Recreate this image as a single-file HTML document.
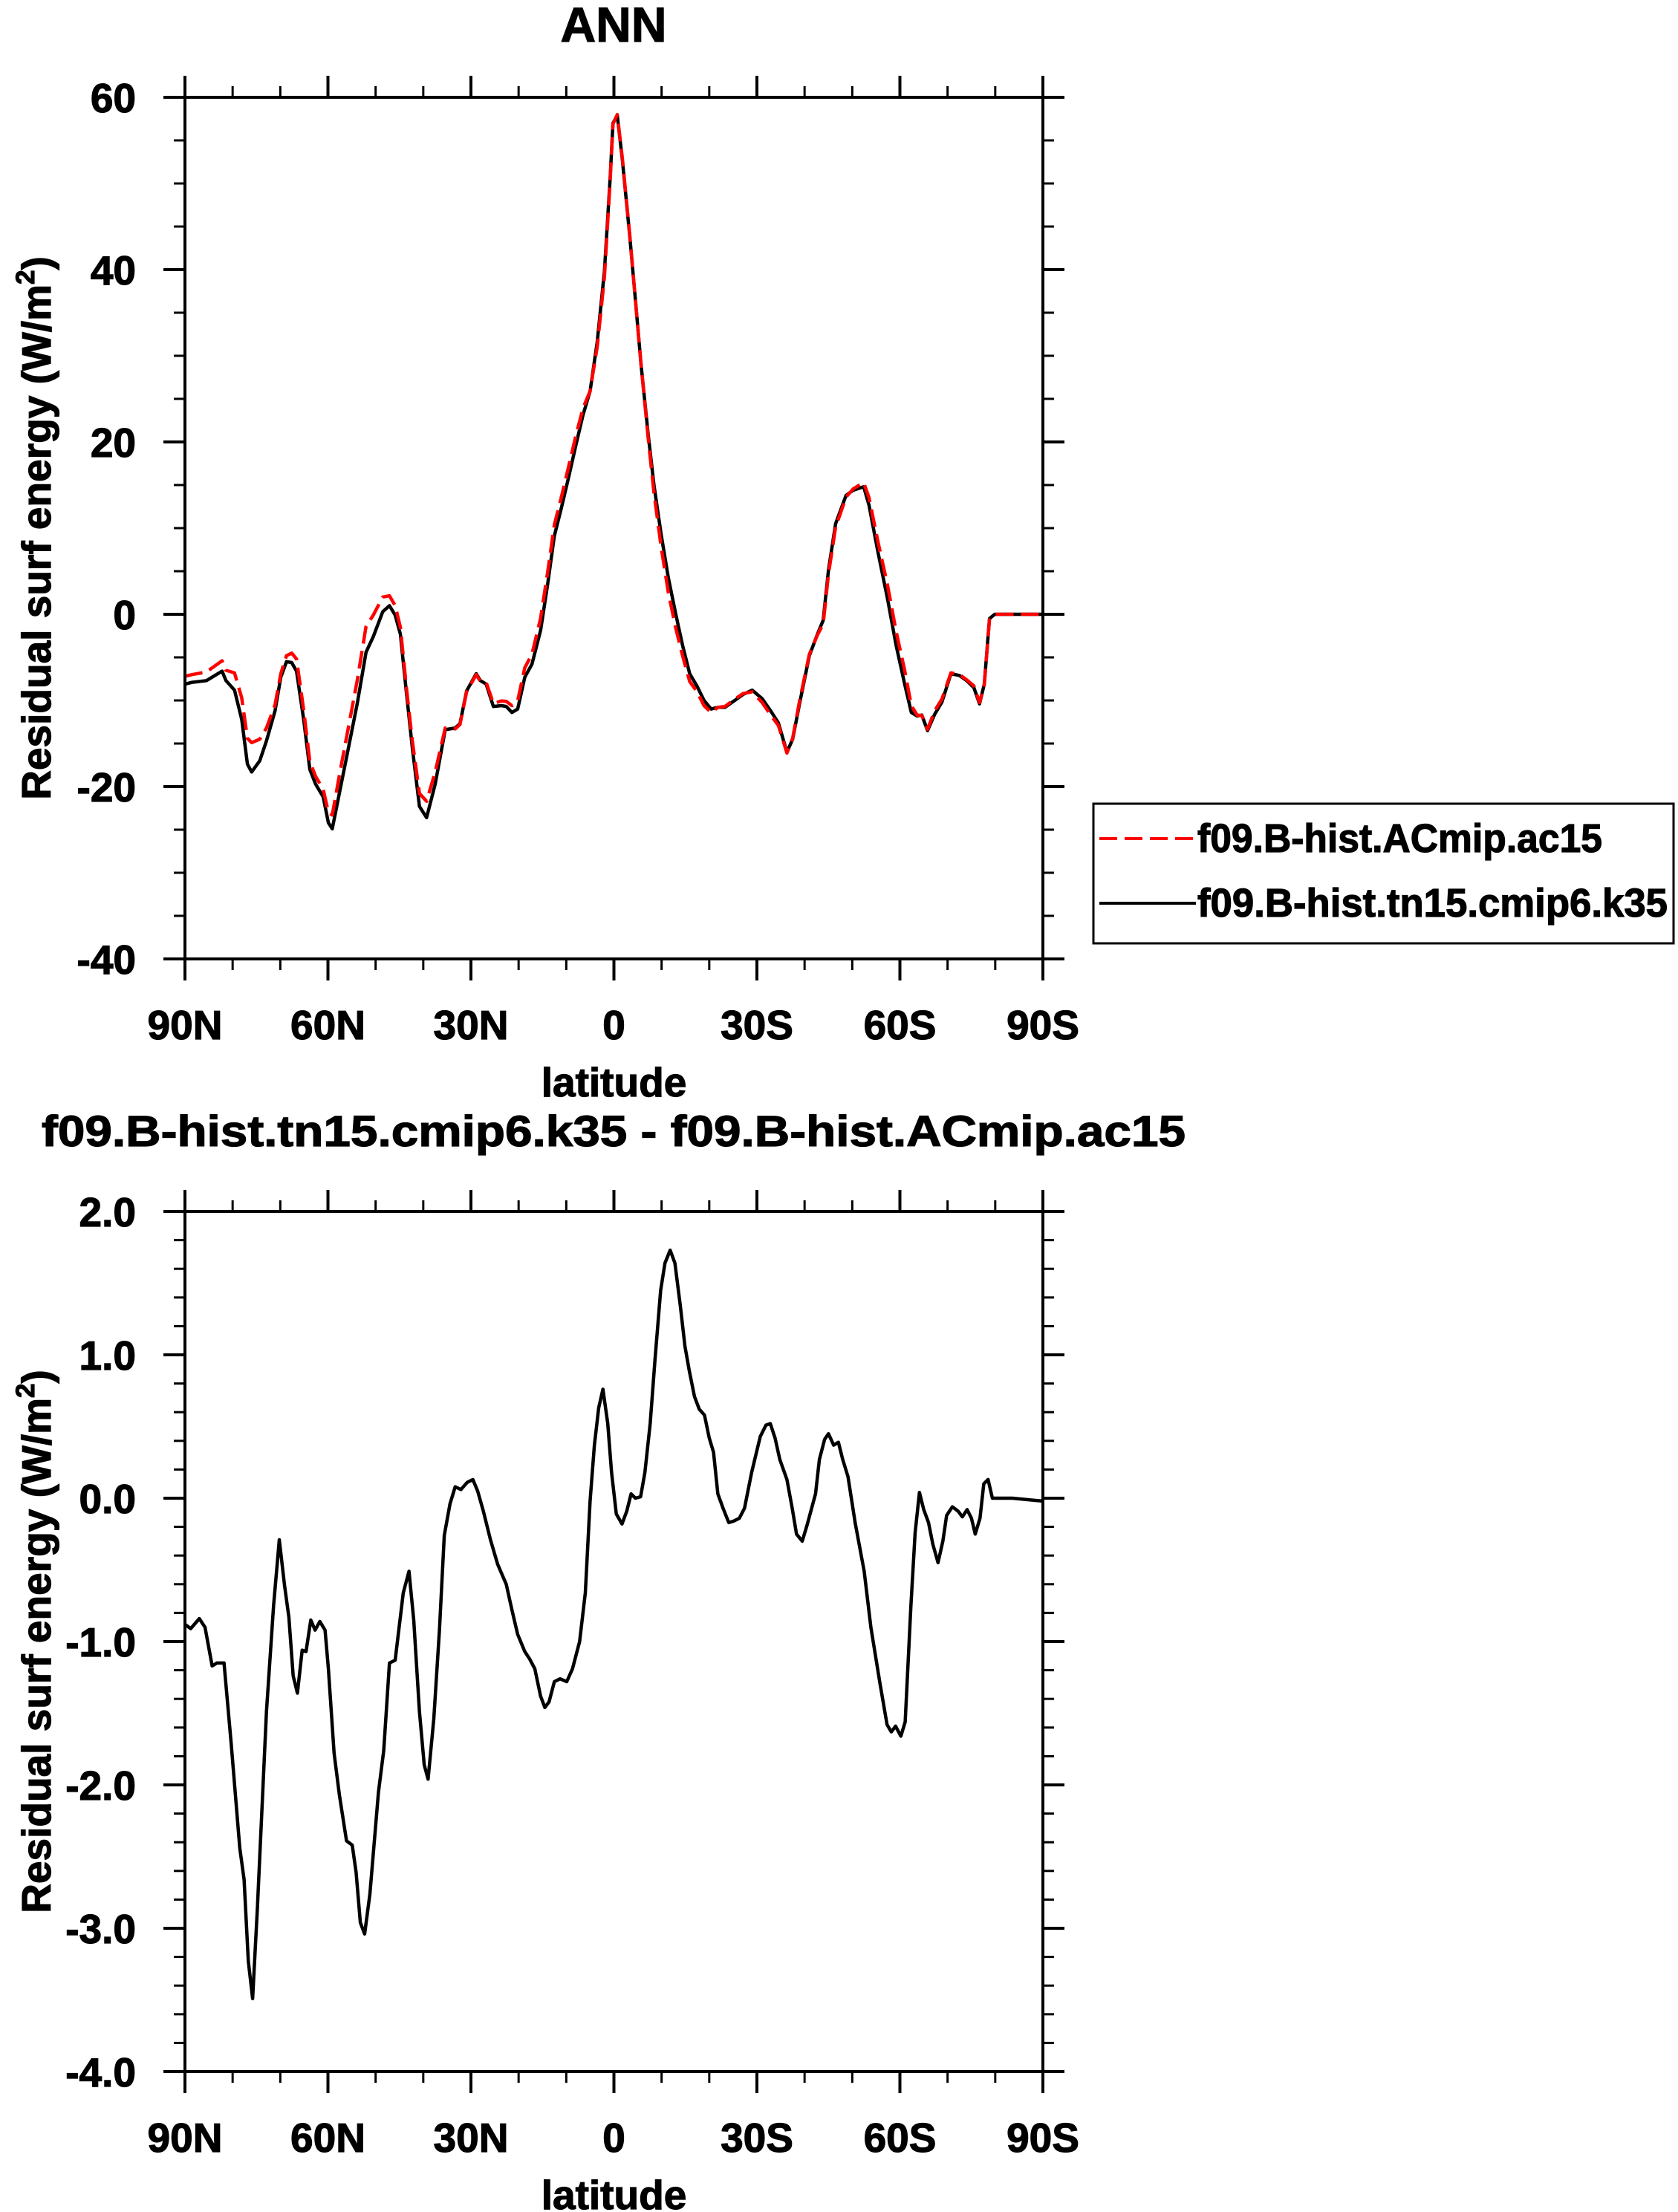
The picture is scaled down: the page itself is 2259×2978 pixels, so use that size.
<!DOCTYPE html>
<html>
<head>
<meta charset="utf-8">
<style>
html,body{margin:0;padding:0;background:#fff;}
svg{display:block;}
text{font-family:"Liberation Sans",Arial,sans-serif;font-weight:bold;fill:#000;stroke:#000;stroke-width:1.2px;}
</style>
</head>
<body>
<svg id="chart" width="2259" height="2978" viewBox="0 0 2259 2978" xmlns="http://www.w3.org/2000/svg">
  <text x="826" y="56" font-size="66" text-anchor="middle">ANN</text>
  <text x="826" y="1543" font-size="58" text-anchor="middle" textLength="1540" lengthAdjust="spacingAndGlyphs">f09.B-hist.tn15.cmip6.k35 - f09.B-hist.ACmip.ac15</text>
  <g id="top-plot"></g>
  <g id="bottom-plot"></g>
  <g id="legend">
    <rect x="1472" y="1082" width="781" height="188" fill="#fff" stroke="#000" stroke-width="3"/>
    <line x1="1480" y1="1129" x2="1610" y2="1129" stroke="#ff0000" stroke-width="4" stroke-dasharray="24,10"/>
    <text x="1612" y="1147" font-size="54" textLength="545" lengthAdjust="spacingAndGlyphs">f09.B-hist.ACmip.ac15</text>
    <line x1="1480" y1="1216" x2="1610" y2="1216" stroke="#000" stroke-width="4"/>
    <text x="1612" y="1234" font-size="54" textLength="633" lengthAdjust="spacingAndGlyphs">f09.B-hist.tn15.cmip6.k35</text>
  </g>
</svg>
<script>
// ---- data ----
const latK35 = [90,88.5,85.5,82.2,81.4,79.6,78.1,76.9,76.0,74.3,72.9,71.1,69.9,68.7,67.6,66.6,65.1,63.8,62.6,61.0,59.9,59.1,57.5,55.7,53.8,52.0,50.5,48.5,47.1,45.9,44.8,43.5,42.3,40.8,39.3,37.5,35.4,33.3,32.3,30.9,28.9,28.0,26.8,25.3,23.6,22.6,21.4,20.2,18.7,17.2,15.4,13.9,12.5,11.0,9.5,8.0,6.5,5.0,3.5,2.0,0.8,0.2,-0.7,-1.8,-3.3,-4.5,-5.7,-7.2,-8.4,-9.9,-11.4,-12.9,-14.4,-15.9,-17.4,-18.9,-20.4,-21.8,-23.3,-25.6,-27.1,-29.0,-31.1,-33.1,-34.5,-36.3,-37.5,-39.0,-41.0,-42.7,-43.9,-45.0,-46.5,-48.7,-50.2,-52.4,-53.5,-55.4,-57.4,-59.2,-61.0,-62.4,-63.6,-64.6,-65.8,-67.3,-68.8,-70.7,-72.5,-74.0,-75.5,-76.7,-77.7,-78.8,-79.9,-90];
const valK35 = [-8.1,-7.9,-7.7,-6.6,-7.7,-8.8,-12.2,-17.4,-18.3,-17.0,-14.7,-11.2,-7.3,-5.5,-5.6,-6.6,-12.2,-18.0,-19.7,-21.2,-24.2,-24.9,-20.5,-15.5,-10.2,-4.4,-2.6,0.3,1.0,-0.1,-2.3,-9.3,-15.5,-22.3,-23.6,-19.7,-13.4,-13.2,-12.7,-8.9,-6.9,-7.7,-8.1,-10.7,-10.6,-10.7,-11.4,-11.0,-7.3,-5.8,-1.9,3.5,9.1,12.4,15.9,19.6,23.1,25.9,31.6,39.8,50.6,57.0,57.9,52.6,44.0,36.5,28.9,20.8,15.0,9.3,4.3,0.2,-3.6,-6.9,-8.3,-10.0,-11.0,-10.8,-10.8,-9.9,-9.3,-8.8,-9.8,-11.4,-12.6,-16.0,-14.5,-10.2,-4.8,-2.3,-0.7,5.1,10.5,13.8,14.4,14.8,12.7,7.2,1.8,-3.6,-8.1,-11.4,-11.8,-11.7,-13.5,-11.6,-10.2,-6.9,-7.1,-7.7,-8.5,-10.4,-8.1,-0.5,0,0];
const latAC15 = latK35.slice();
const valAC15 = [-7.2,-7.0,-6.7,-5.4,-6.5,-6.8,-9.7,-14.4,-14.9,-14.5,-13.2,-10.5,-6.9,-4.8,-4.5,-5.2,-11.1,-17.1,-18.8,-20.3,-23.0,-23.3,-18.4,-13.1,-7.5,-1.4,-0.1,2.0,2.15,1.0,-1.5,-8.75,-14.7,-20.8,-21.7,-18.3,-13.2,-13.3,-12.8,-9.0,-7.0,-7.8,-7.9,-10.35,-10.05,-10.1,-10.6,-10.05,-6.2,-4.65,-0.5,4.9,10.4,13.65,17.15,20.7,23.9,25.9,31.05,39.1,50.3,56.9,58.0,52.8,44.1,36.5,28.9,20.35,14.1,7.85,2.6,-1.45,-4.8,-7.8,-8.95,-10.6,-11.4,-10.8,-10.7,-9.75,-9.2,-9.0,-10.25,-11.85,-12.9,-16.1,-14.4,-9.9,-4.65,-2.4,-1.1,4.65,10.1,13.6,14.55,15.3,13.55,8.4,3.4,-2.0,-6.5,-10.6,-11.7,-11.75,-13.35,-11.2,-9.85,-6.8,-7.0,-7.6,-8.3,-10.25,-8.2,-0.6,0,0];
const latDiff = [90,88.8,87.0,85.8,84.3,83.3,81.8,80.3,78.5,77.6,76.7,75.8,74.8,72.9,71.4,70.2,69.1,68.2,67.3,66.4,65.4,64.6,63.6,62.7,61.7,60.6,59.9,58.7,57.6,56.1,54.9,54.1,53.2,52.3,51.2,49.4,48.3,47.1,45.9,44.2,43.0,42.0,40.8,39.8,39.0,37.8,36.6,35.6,34.4,33.3,32.1,30.8,29.6,28.6,27.4,25.9,24.4,22.6,21.4,20.2,18.7,17.7,16.6,15.4,14.5,13.6,12.5,11.3,9.9,8.7,7.2,6.0,5.0,4.1,3.2,2.3,1.3,0.5,-0.5,-1.7,-2.7,-3.6,-4.5,-5.6,-6.5,-7.6,-8.6,-9.8,-10.7,-11.8,-12.8,-13.9,-14.9,-15.8,-16.9,-17.9,-19.0,-20.0,-20.9,-21.8,-22.9,-24.1,-25.1,-26.3,-27.4,-28.9,-30.7,-31.9,-32.8,-33.8,-34.8,-36.3,-37.4,-38.3,-39.5,-40.5,-42.3,-43.1,-44.2,-45.0,-46.1,-47.1,-48.0,-49.1,-50.6,-52.5,-53.9,-55.8,-57.3,-58.2,-59.1,-60.2,-61.1,-62.3,-63.2,-64.1,-65.0,-66.0,-66.9,-68.0,-69.0,-69.8,-71.0,-72.2,-73.1,-74.1,-75.0,-75.8,-76.8,-77.6,-78.5,-79.4,-83.6,-86.6,-90];
const valDiff = [-0.88,-0.91,-0.84,-0.90,-1.17,-1.15,-1.15,-1.71,-2.44,-2.66,-3.23,-3.49,-2.86,-1.49,-0.75,-0.29,-0.61,-0.83,-1.24,-1.36,-1.06,-1.07,-0.85,-0.92,-0.86,-0.92,-1.19,-1.78,-2.07,-2.39,-2.42,-2.61,-2.96,-3.04,-2.76,-2.05,-1.76,-1.15,-1.13,-0.66,-0.51,-0.85,-1.49,-1.86,-1.96,-1.54,-0.92,-0.26,-0.04,0.08,0.06,0.11,0.13,0.05,-0.09,-0.29,-0.46,-0.60,-0.78,-0.95,-1.07,-1.12,-1.19,-1.38,-1.46,-1.42,-1.28,-1.26,-1.28,-1.19,-1.00,-0.66,-0.02,0.37,0.63,0.76,0.52,0.18,-0.11,-0.18,-0.09,0.03,0.00,0.01,0.18,0.52,0.96,1.45,1.64,1.73,1.64,1.35,1.06,0.89,0.71,0.62,0.58,0.42,0.32,0.03,-0.07,-0.17,-0.16,-0.14,-0.07,0.18,0.43,0.51,0.52,0.42,0.27,0.13,-0.07,-0.25,-0.30,-0.19,0.03,0.27,0.41,0.45,0.37,0.39,0.27,0.15,-0.17,-0.51,-0.90,-1.29,-1.58,-1.63,-1.59,-1.66,-1.56,-0.75,-0.24,0.04,-0.08,-0.17,-0.32,-0.45,-0.30,-0.12,-0.06,-0.09,-0.13,-0.08,-0.14,-0.25,-0.14,0.10,0.13,0.00,0.00,-0.01,-0.02];
const xTickVals = [90,60,30,0,-30,-60,-90];
const xTickLabels = ["90N","60N","30N","0","30S","60S","90S"];
const topYTicks = [60,40,20,0,-20,-40];
const topYLabels = ["60","40","20","0","-20","-40"];
const botYTicks = [2,1,0,-1,-2,-3,-4];
const botYLabels = ["2.0","1.0","0.0","-1.0","-2.0","-3.0","-4.0"];

const NS = "http://www.w3.org/2000/svg";
function mk(tag, attrs, parent){
  const e = document.createElementNS(NS, tag);
  for (const k in attrs) e.setAttribute(k, attrs[k]);
  parent.appendChild(e);
  return e;
}
const L = 249, R = 1404;
function xScale(lat){ return L + (90 - lat) / 180 * (R - L); }

function drawPanel(g, top, bottom, ymin, ymax, majorY, minorStep, yTicks, yLabels, series){
  const yS = v => bottom - (v - ymin) / (ymax - ymin) * (bottom - top);
  const nMinor = Math.round((ymax - ymin) / minorStep);
  for (let i = 0; i <= nMinor; i++){
    const y = yS(ymin + i * minorStep);
    const t1 = mk('line', {x1:L-15, y1:y, x2:L, y2:y, stroke:'#000','stroke-width':3}, g);
    
    
    const t2 = mk('line', {x1:R, y1:y, x2:R+15, y2:y, stroke:'#000','stroke-width':3}, g);
    
    
  }
  yTicks.forEach((v, i) => {
    const y = yS(v);
    const a = mk('line', {x1:L-29, y1:y, x2:L, y2:y, stroke:'#000','stroke-width':4}, g);
    
    
    const b = mk('line', {x1:R, y1:y, x2:R+29, y2:y, stroke:'#000','stroke-width':4}, g);
    
    
    const t = mk('text', {x:183, y:y+20, 'font-size':55, 'text-anchor':'end'}, g);
    t.textContent = yLabels[i];
    
    
  });
  for (let lat = 90; lat >= -90; lat -= 10){
    const x = xScale(lat);
    const major = (lat % 30 === 0);
    const len = major ? 29 : 15;
    const a = mk('line', {x1:x, y1:top-len, x2:x, y2:top, stroke:'#000','stroke-width':major?4:3}, g);
    
    
    const b = mk('line', {x1:x, y1:bottom, x2:x, y2:bottom+len, stroke:'#000','stroke-width':major?4:3}, g);
    
    
  }
  xTickVals.forEach((v, i) => {
    const t = mk('text', {x:xScale(v), y:bottom+108, 'font-size':55, 'text-anchor':'middle'}, g);
    t.textContent = xTickLabels[i];
    
    
  });
  const xt = mk('text', {x:(L+R)/2, y:bottom+185, 'font-size':55, 'text-anchor':'middle'}, g);
  xt.textContent = 'latitude';
  
  
  const cy = (top + bottom) / 2;
  const yt = mk('text', {x:0, y:0, 'font-size':55, 'text-anchor':'middle', transform:'translate(68,'+cy+') rotate(-90)'}, g);
  
  
  yt.appendChild(document.createTextNode('Residual surf energy (W/m'));
  const sup = mk('tspan', {'font-size':35, dy:-22}, yt);
  sup.textContent = '2';
  const cl = mk('tspan', {dy:22}, yt);
  cl.textContent = ')';
  series.forEach(s => {
    let d = '';
    s.lat.forEach((la, i) => {
      d += (i ? 'L' : 'M') + xScale(la).toFixed(1) + ',' + yS(s.val[i]).toFixed(1);
    });
    const p = mk('path', {d:d, fill:'none', stroke:s.color, 'stroke-width':4.5, 'stroke-linejoin':'round'}, g);
    if (s.dash) p.setAttribute('stroke-dasharray', s.dash);
    
    
  });
  const fr = mk('rect', {x:L, y:top, width:R-L, height:bottom-top, fill:'none', stroke:'#000', 'stroke-width':4}, g);
  
  
}

drawPanel(document.getElementById('top-plot'), 131, 1291, -40, 60, 20, 5, topYTicks, topYLabels, [
  {lat:latK35, val:valK35, color:'#000', name:'line-k35'},
  {lat:latAC15, val:valAC15, color:'#ff0000', dash:'24,10', name:'line-ac15'}
]);
drawPanel(document.getElementById('bottom-plot'), 1631, 2789, -4, 2, 1, 0.2, botYTicks, botYLabels, [
  {lat:latDiff, val:valDiff, color:'#000', name:'line-difference'}
]);
</script>
</body>
</html>
